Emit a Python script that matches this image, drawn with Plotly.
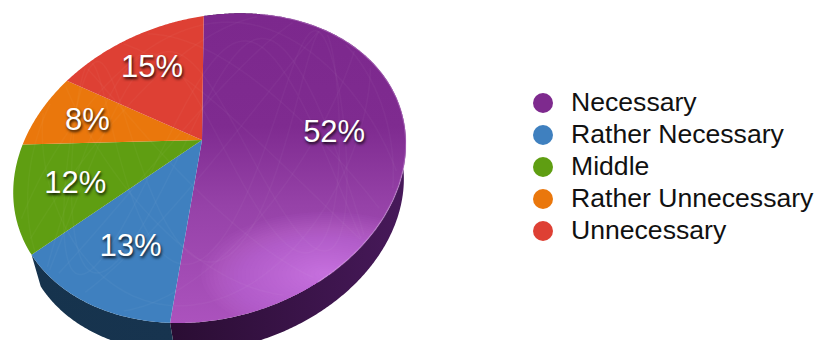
import numpy as np
import plotly.graph_objects as go

categories = ["Necessary", "Rather Necessary", "Middle", "Rather Unnecessary", "Unnecessary"]
shares = [52, 13, 12, 8, 15]
slice_colors = ["#7e2a8e", "#3f80bf", "#5f9e12", "#ea770c", "#de4034"]
wall_colors = {0: ("#2a0d33", "#47195a"), 1: ("#16334d", "#17344f")}
label_reach = [0.65, 0.675, 0.69, 0.71, 0.70]

# Tilted-disc projection, in pixel units of the plot area
CX, CY = 202.0, 140.0
RX, RY, SHEAR_Y, SHEAR_X = 192.5, 147.5, 23.5, 2.0
K_V, K_U = 0.19, 0.04
LABEL_DX, LABEL_DY = 3, 4


def project(deg, r=1.0, scale=1.0, dx=0.0, dy=0.0):
    a = np.radians(deg)
    u, v = r * np.sin(a), r * np.cos(a)
    den = 1 + K_V * v - K_U * u
    x = (RX * u + SHEAR_X * v) / den
    y = (-RY * v - SHEAR_Y * u) / den
    return CX + x * scale + dx, CY + y * scale + dy


def arc(a0, a1):
    return np.linspace(a0, a1, max(3, int(abs(a1 - a0) * 2)))


edges = np.concatenate([[0], np.cumsum(shares)]) * 3.6
fig = go.Figure()

# Side walls, under the top face
for i, (dark, light) in wall_colors.items():
    t = arc(edges[i], edges[i + 1])
    x0, y0 = project(t)
    x1, y1 = project(t, scale=0.97, dx=4, dy=35)
    fig.add_trace(go.Scatter(
        x=np.concatenate([x0, x1[::-1]]), y=np.concatenate([y0, y1[::-1]]),
        mode="none", fill="toself",
        fillgradient=dict(type="horizontal", colorscale=[[0, dark], [1, light]]),
        hoverinfo="skip"))

# Top face
outlines = []
for i, col in enumerate(slice_colors):
    t = arc(edges[i], edges[i + 1])
    x, y = project(t)
    px = np.concatenate([[CX], x, [CX]])
    py = np.concatenate([[CY], y, [CY]])
    outlines.append((px, py))
    style = dict(fillcolor=col)
    if i == 0:
        style = dict(fillgradient=dict(
            type="vertical", start=16, stop=322,
            colorscale=[[0, "#7c288d"], [0.36, "#7f2b90"], [0.62, "#9642a8"], [1, "#ab52bd"]]))
    fig.add_trace(go.Scatter(x=px, y=py, mode="none", fill="toself",
                             hoverinfo="skip", name=categories[i], **style))

# Soft highlight near the front rim of the largest slice
wx, wy = outlines[0]
hx, hy = 326.0, 274.0
for level in np.linspace(1.0, 0.06, 30):
    phi = np.linspace(0, 2 * np.pi, 240)
    rx_glow, ry_glow = 125 * level, 62 * level
    gx, gy = [], []
    for p in phi:
        dx_, dy_ = np.cos(p), np.sin(p)
        reach = 1 / np.hypot(dx_ / rx_glow, dy_ / ry_glow)
        ax, ay = wx[:-1] - hx, wy[:-1] - hy
        bx, by = wx[1:] - wx[:-1], wy[1:] - wy[:-1]
        det = dx_ * by - dy_ * bx
        with np.errstate(divide="ignore", invalid="ignore"):
            s = (ax * by - ay * bx) / det
            q = (ax * dy_ - ay * dx_) / det
        hit = s[(s > 0) & (q >= 0) & (q <= 1)]
        if hit.size:
            reach = min(reach, hit.min())
        gx.append(hx + reach * dx_)
        gy.append(hy + reach * dy_)
    fig.add_trace(go.Scatter(x=gx, y=gy, mode="none", fill="toself",
                             fillcolor="rgba(240,150,255,0.035)", hoverinfo="skip"))

# Faint scratched texture over the disc
tt = np.linspace(0, 2 * np.pi, 1500)
for a, b, ph, amp in [(5, 7, 0.4, 0.92), (3, 8, 1.1, 0.72)]:
    su = amp * np.sin(a * tt + ph)
    sv = amp * np.cos(b * tt)
    rad = np.hypot(su, sv)
    su, sv = np.where(rad < 0.98, su, np.nan), np.where(rad < 0.98, sv, np.nan)
    den = 1 + K_V * sv - K_U * su
    fig.add_trace(go.Scatter(
        x=CX + (RX * su + SHEAR_X * sv) / den, y=CY + (-RY * sv - SHEAR_Y * su) / den,
        mode="lines", line=dict(color="rgba(255,255,255,0.03)", width=1.6, shape="spline"),
        hoverinfo="skip"))

# Light rim on the right-hand edge
rim_t = arc(20, 150)
rx_, ry_ = project(rim_t)
fig.add_trace(go.Scatter(x=rx_, y=ry_, mode="lines",
                         line=dict(color="rgba(235,190,245,0.3)", width=1.5), hoverinfo="skip"))

# Percentage labels
mids = (edges[:-1] + edges[1:]) / 2
lx, ly = zip(*[project(m, r=f, dx=LABEL_DX, dy=LABEL_DY) for m, f in zip(mids, label_reach)])
fig.add_trace(go.Scatter(
    x=lx, y=ly, mode="text", text=[f"{v}%" for v in shares], textposition="middle center",
    textfont=dict(family="Liberation Sans", size=31, color="white",
                  shadow="1px 2px 3px rgba(0,0,0,0.85)"),
    hoverinfo="skip"))

# Key
key_y = [103 + 32 * i for i in range(len(categories))]
fig.add_trace(go.Scatter(
    x=[543] * len(categories), y=key_y, mode="markers",
    marker=dict(size=20, color=slice_colors, line=dict(width=0)), hoverinfo="skip"))
fig.add_trace(go.Scatter(
    x=[571] * len(categories), y=[y + 1 for y in key_y], mode="text", text=categories,
    textposition="middle right",
    textfont=dict(family="Liberation Sans", size=26.6, color="#111111"), hoverinfo="skip"))

fig.update_layout(
    width=819, height=340, margin=dict(l=0, r=0, t=0, b=0),
    paper_bgcolor="white", plot_bgcolor="white", showlegend=False,
    xaxis=dict(range=[0, 819], visible=False, fixedrange=True),
    yaxis=dict(range=[340, 0], visible=False, fixedrange=True),
)
fig.write_html("out.html", config=dict(displayModeBar=False))
